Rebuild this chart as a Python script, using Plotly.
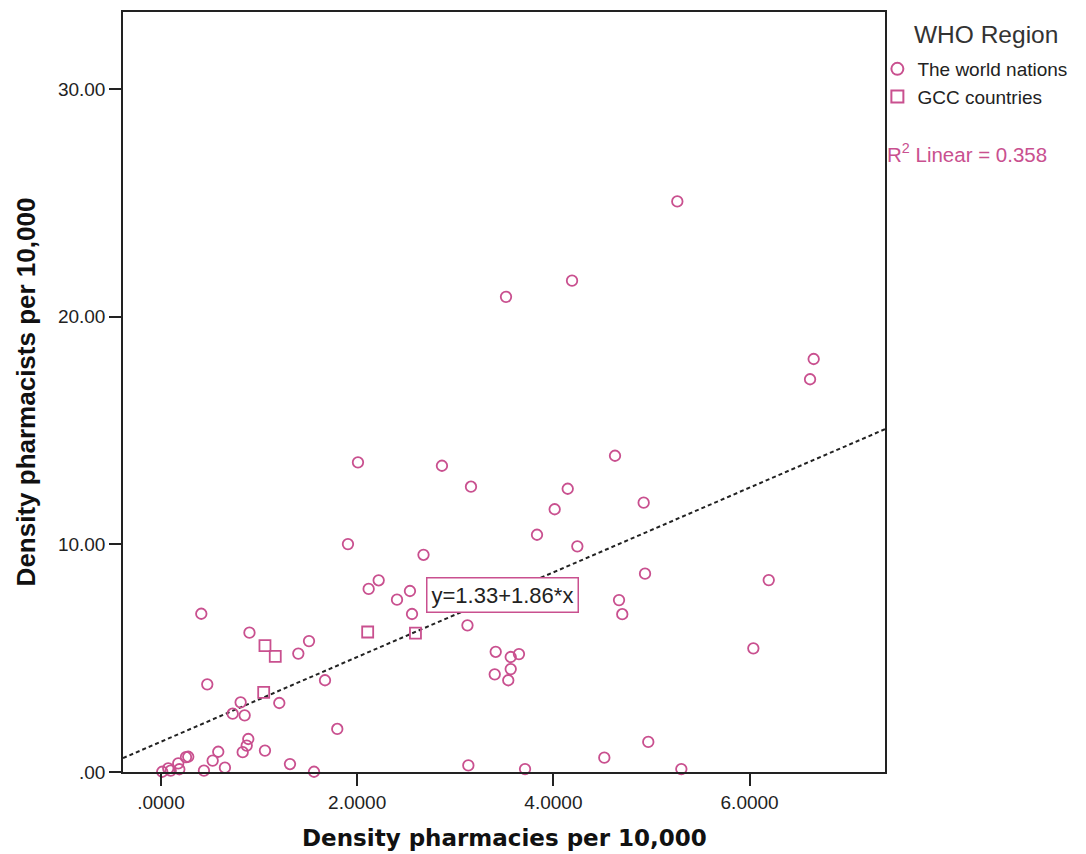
import plotly.graph_objects as go

# World nations (circles)
world_x = [5.263, 3.517, 4.190, 6.653, 6.616, 2.008, 2.864, 4.628, 3.160, 4.146,
           4.920, 4.013, 3.833, 1.906, 4.244, 2.676, 4.934, 2.219, 6.195, 2.117,
           2.538, 2.406, 4.669, 4.702, 2.559, 0.411, 3.124, 0.902, 1.509, 1.400,
           6.038, 3.412, 3.565, 3.649, 3.565, 3.402, 3.540, 1.672, 0.472, 0.812,
           1.206, 0.731, 0.853, 1.797, 0.890, 0.874, 0.833, 1.060, 0.584, 0.527,
           0.652, 0.438, 1.315, 1.560, 0.255, 0.278, 0.013, 0.074, 0.099, 0.176,
           0.187, 4.967, 4.519, 3.133, 3.711, 5.304]
world_y = [25.06, 20.87, 21.58, 18.14, 17.25, 13.60, 13.45, 13.89, 12.53, 12.44,
           11.83, 11.54, 10.42, 10.01, 9.91, 9.54, 8.71, 8.42, 8.43, 8.04,
           7.95, 7.57, 7.55, 6.93, 6.94, 6.95, 6.44, 6.12, 5.75, 5.20,
           5.43, 5.28, 5.05, 5.18, 4.52, 4.29, 4.03, 4.03, 3.85, 3.06,
           3.03, 2.56, 2.49, 1.89, 1.45, 1.16, 0.87, 0.94, 0.89, 0.50,
           0.19, 0.06, 0.35, 0.01, 0.65, 0.67, 0.01, 0.16, 0.06, 0.38,
           0.12, 1.32, 0.63, 0.29, 0.13, 0.13]

# GCC countries (squares)
gcc_x = [1.060, 1.165, 1.047, 2.107, 2.594]
gcc_y = [5.55, 5.08, 3.50, 6.15, 6.10]

# Fit line
INTERCEPT = 1.33
SLOPE = 1.86
R2 = 0.358

x_range = [-0.387, 7.38]
y_range = [0, 33.38]

x_tickvals = [0, 2, 4, 6]
x_ticktext = [".0000", "2.0000", "4.0000", "6.0000"]
y_tickvals = [0, 10, 20, 30]
y_ticktext = [".00", "10.00", "20.00", "30.00"]

PINK = "#c9508f"
FONT = "Liberation Sans"

fig = go.Figure()

fit_x = x_range
fit_y = [INTERCEPT + SLOPE * v for v in fit_x]
fig.add_trace(go.Scatter(x=fit_x, y=fit_y, mode="lines",
                         line=dict(color="#222222", width=2, dash="4px,3px"),
                         showlegend=False, hoverinfo="skip"))

fig.add_trace(go.Scatter(x=world_x, y=world_y, mode="markers", name="The world nations",
                         marker=dict(symbol="circle-open", size=10.5, color=PINK,
                                     line=dict(width=1.8, color=PINK)),
                         cliponaxis=False))
fig.add_trace(go.Scatter(x=gcc_x, y=gcc_y, mode="markers", name="GCC countries",
                         marker=dict(symbol="square-open", size=11, color=PINK,
                                     line=dict(width=1.8, color=PINK)),
                         cliponaxis=False))

# equation label
fig.add_annotation(x=3.486, y=7.77, xref="x", yref="y",
                   text=f"y={INTERCEPT:.2f}+{SLOPE:.2f}*x", showarrow=False,
                   font=dict(family=FONT, size=22, color="#222222"),
                   bgcolor="white", bordercolor=PINK, borderwidth=1.5, borderpad=4)

fig.add_annotation(x=1.0, y=0.814, xref="paper", yref="paper", xanchor="left", yanchor="middle",
                   text=f"R<sup>2</sup> Linear = {R2:.3f}", showarrow=False,
                   font=dict(family=FONT, size=20.5, color=PINK))

fig.add_annotation(x=1.035, y=0.970, xref="paper", yref="paper", xanchor="left", yanchor="middle",
                   text="WHO Region", showarrow=False,
                   font=dict(family=FONT, size=24.5, color="#333333"))

# x-axis title
fig.add_annotation(x=0.5, y=-0.087, xref="paper", yref="paper", xanchor="center", yanchor="middle",
                   text="<b>Density pharmacies per 10,000</b>", showarrow=False,
                   font=dict(family="DejaVu Sans", size=23, color="#111111"))

fig.update_layout(
    width=1086, height=854,
    margin=dict(l=123, r=201, t=12, b=82),
    plot_bgcolor="white", paper_bgcolor="white",
    font=dict(family=FONT, color="#222222"),
    legend=dict(x=0.990, y=0.950, xanchor="left", yanchor="top",
                font=dict(size=19, color="#222222"), itemwidth=30,
                itemsizing="constant", tracegroupgap=0, bgcolor="rgba(0,0,0,0)"),
)
fig.update_xaxes(range=x_range, tickvals=x_tickvals, ticktext=x_ticktext, automargin=False,
                 showgrid=False, zeroline=False, showline=True, linecolor="#222222", linewidth=1.5,
                 mirror=True, ticks="outside", ticklen=12, tickwidth=1.5, tickcolor="#222222",
                 tickfont=dict(family=FONT, size=19, color="#222222"))
fig.update_yaxes(range=y_range, tickvals=y_tickvals, ticktext=y_ticktext, automargin=False,
                 showgrid=False, zeroline=False, showline=True, linecolor="#222222", linewidth=1.5,
                 mirror=True, ticks="outside", ticklen=12, tickwidth=1.5, tickcolor="#222222",
                 tickfont=dict(family=FONT, size=19, color="#222222"),
                 title=dict(text="<b>Density pharmacists per 10,000</b>", standoff=15,
                            font=dict(family=FONT, size=26, color="#111111")))

fig.write_html("out.html", config={"displayModeBar": False},
               post_script="document.body.style.margin='0';document.body.style.overflow='hidden';")
